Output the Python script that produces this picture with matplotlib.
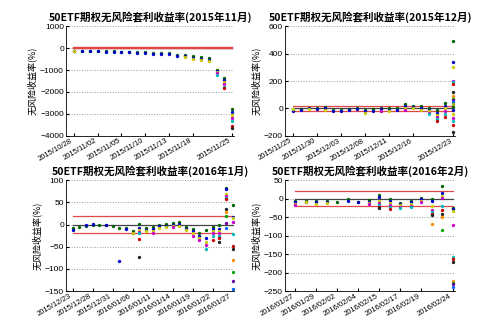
import numpy as np
import matplotlib
matplotlib.use("Agg")
import matplotlib.pyplot as plt

plt.rcParams['font.family'] = ['Liberation Sans', 'Noto Sans CJK SC', 'DejaVu Sans']

# ---- 2015年11月 ----
nov_dates = ['2015/10/28', '2015/10/29', '2015/10/30', '2015/11/02', '2015/11/03', '2015/11/04',
             '2015/11/05', '2015/11/06', '2015/11/09', '2015/11/10', '2015/11/11', '2015/11/12',
             '2015/11/13', '2015/11/16', '2015/11/17', '2015/11/18', '2015/11/19', '2015/11/20',
             '2015/11/23', '2015/11/24', '2015/11/25']
nov_ticks = ['2015/10/28', '2015/11/02', '2015/11/05', '2015/11/10', '2015/11/13', '2015/11/18', '2015/11/25']
nov_vals = [
    [-120, -135, -140], [-125, -135], [-125, -140], [-140, -150], [-150, -160], [-150, -165],
    [-160, -180], [-170, -185], [-190, -210], [-200, -220], [-220, -250], [-230, -260],
    [-240, -270], [-310, -350], [-330, -380, -420], [-380, -430, -480], [-420, -480, -560],
    [-450, -530, -600], [-980, -1050, -1100, -1150, -1230],
    [-1380, -1450, -1550, -1650, -1750, -1800],
    [-2780, -2900, -3050, -3200, -3300, -3550, -3620],
]

# ---- 2015年12月 ----
dec_dates = ['2015/11/25', '2015/11/26', '2015/11/27', '2015/11/30', '2015/12/01', '2015/12/02',
             '2015/12/03', '2015/12/04', '2015/12/07', '2015/12/08', '2015/12/09', '2015/12/10',
             '2015/12/11', '2015/12/14', '2015/12/15', '2015/12/16', '2015/12/17', '2015/12/18',
             '2015/12/21', '2015/12/22', '2015/12/23']
dec_ticks = ['2015/11/25', '2015/11/30', '2015/12/03', '2015/12/08', '2015/12/11', '2015/12/16', '2015/12/23']
dec_vals = [
    [-10, -15, -5], [-5, -10], [0, 5, -5], [0, -5], [8, 0, -8], [-10, -18], [-10, -20],
    [-5, -12], [0, -5], [-10, -20, -30], [-5, -15], [5, -5, -15, -20], [5, -10, -15],
    [0, -10], [30, 15, 0, -10], [20, 10, 5], [15, 5, -10], [0, -10, -20, -30, -40],
    [-10, -30, -45, -60, -75, -90], [40, 20, 0, -20, -40, -60],
    [490, 335, 305, 200, 190, 175, 120, 90, 70, 60, 50, 30, 10, -10, -40, -70, -90, -120, -170],
]

# ---- 2016年1月 ----
jan_dates = ['2015/12/23', '2015/12/24', '2015/12/25', '2015/12/28', '2015/12/29', '2015/12/30',
             '2015/12/31', '2016/01/04', '2016/01/05', '2016/01/06', '2016/01/07', '2016/01/08',
             '2016/01/11', '2016/01/12', '2016/01/13', '2016/01/14', '2016/01/15', '2016/01/18',
             '2016/01/19', '2016/01/20', '2016/01/21', '2016/01/22', '2016/01/25', '2016/01/26',
             '2016/01/27']
jan_ticks = ['2015/12/23', '2015/12/28', '2015/12/31', '2016/01/06', '2016/01/11', '2016/01/14',
             '2016/01/19', '2016/01/22', '2016/01/27']
jan_vals = [
    [-8, -12], [-5], [-2, 0], [0, 2], [-1], [0, -1], [-3], [-8, -82], [-8, -10],
    [-15, -18, -20], [2, -8, -12, -17, -20, -33, -72], [-8, -12, -14], [-5, -10, -14, -18],
    [0, -3, -8], [2, -3, -5], [3, 0, -3, -5], [5, 2, -3], [-5, -10, -12],
    [-10, -15, -20, -25], [-20, -25, -30, -35], [-13, -30, -40, -45, -55],
    [-5, -10, -15, -20, -25, -35], [0, -10, -15, -20, -25, -30, -40],
    [83, 80, 68, 65, 60, 58, 35, 28, 20, 3, -8],
    [45, 18, 15, 5, -22, -48, -55, -80, -108, -127, -145],
]

# ---- 2016年2月 ----
feb_dates = ['2016/01/27', '2016/01/28', '2016/01/29', '2016/02/01', '2016/02/02', '2016/02/03',
             '2016/02/04', '2016/02/05', '2016/02/15', '2016/02/16', '2016/02/17', '2016/02/18',
             '2016/02/19', '2016/02/22', '2016/02/23', '2016/02/24']
feb_ticks = ['2016/01/27', '2016/01/29', '2016/02/02', '2016/02/04', '2016/02/15', '2016/02/17',
             '2016/02/19', '2016/02/24']
feb_vals = [
    [-6, -10, -14, -18], [-5, -8, -10], [-5, -10, -15], [-5, -8, -12], [-8], [-2, -5],
    [-8, -10], [-3, -8, -12, -15], [10, 5, -5, -12, -18, -22, -25], [0, -5, -12, -18, -22, -28],
    [-12, -15, -18, -22, -25], [-5, -10, -15, -20, -22], [2, 0, -5, -10],
    [0, -5, -20, -30, -35, -40, -45, -68], [35, 15, 8, 3, -20, -30, -40, -50, -85],
    [-25, -28, -32, -70, -158, -162, -170, -222, -228, -232, -238],
]

palette = ['#006400', '#0000cc', '#cccc00', '#cc00cc', '#00bbbb', '#cc0000',
           '#222222', '#ff8c00', '#00aa00', '#6600aa', '#0066ff', '#aaaa00']

panels = [
    ('50ETF期权无风险套利收益率(2015年11月)', nov_dates, nov_ticks, nov_vals, (-4000, 1000), 1000),
    ('50ETF期权无风险套利收益率(2015年12月)', dec_dates, dec_ticks, dec_vals, (-200, 600), 200),
    ('50ETF期权无风险套利收益率(2016年1月)', jan_dates, jan_ticks, jan_vals, (-150, 100), 50),
    ('50ETF期权无风险套利收益率(2016年2月)', feb_dates, feb_ticks, feb_vals, (-250, 50), 50),
]

boxes = [[0.132, 0.583, 0.336, 0.337], [0.570, 0.583, 0.340, 0.337],
         [0.132, 0.107, 0.336, 0.340], [0.570, 0.107, 0.340, 0.340]]

fig = plt.figure(figsize=(5, 3.26), dpi=100)
for k, ((title, dates, ticks, vals, ylim, step), box) in enumerate(zip(panels, boxes)):
    ax = fig.add_axes(box)
    n = len(dates)
    # reference lines
    ax.plot([0, n - 1], [0, 0], color='#444444', lw=0.9, zorder=1)
    red_lw = 1.6 if k == 0 else 0.9
    ax.plot([0, n - 1], [20, 20], color='#e04848', lw=red_lw, zorder=1)
    ax.plot([0, n - 1], [-20, -20], color='#e04848', lw=red_lw, zorder=1)
    for i, day in enumerate(vals):
        for j, v in enumerate(day):
            ax.plot(i, v, 'o', ms=2.4, mew=0, color=palette[j % len(palette)], zorder=3)
    ax.set_xlim(-1, n - 0.8)
    ax.set_ylim(*ylim)
    ax.set_yticks(np.arange(ylim[0], ylim[1] + 1, step))
    ax.yaxis.grid(True, linestyle=':', color='#999999', lw=0.7)
    ax.set_axisbelow(True)
    ax.set_xticks([dates.index(t) for t in ticks])
    ax.set_xticklabels(ticks, rotation=30, ha='right', fontsize=5.5)
    ax.tick_params(axis='y', labelsize=6, length=2, direction='in', pad=1.5)
    ax.tick_params(axis='x', length=2, direction='in', pad=1)
    ax.spines['top'].set_visible(False)
    ax.spines['right'].set_visible(False)
    ax.spines['left'].set_linewidth(0.6)
    ax.spines['bottom'].set_linewidth(0.6)
    ax.set_title(title, fontsize=7.6, fontweight='bold', pad=4,
                 family=['Noto Sans CJK SC', 'DejaVu Sans'])
    ax.set_ylabel('无风险收益率(%)', fontsize=6.5, labelpad=2,
                  family=['Noto Sans CJK SC', 'DejaVu Sans'])

fig.savefig('out.png', dpi=100)
